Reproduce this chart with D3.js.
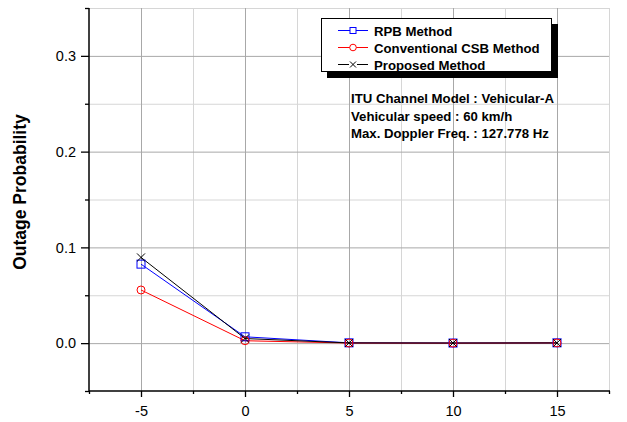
<!DOCTYPE html>
<html>
<head>
<meta charset="utf-8">
<script src="https://cdn.jsdelivr.net/npm/d3@7"></script>
<style>
  html, body { margin: 0; padding: 0; background: #fff; }
  svg { display: block; font-family: Arial, "Liberation Sans", sans-serif; }
</style>
</head>
<body>
<svg id="chart" width="627" height="422"></svg>
<script>
// SNR points on the x axis
const snr = [-5, 0, 5, 10, 15];
// Outage probability for each method
const rpb = [0.0825, 0.0066, 0.0003, 0.0001, 0.0003];
const csb = [0.0555, 0.0025, 0.0001, 0.0000, 0.0002];
const proposed = [0.0895, 0.0048, 0.0002, 0.0001, 0.0002];

const xMajor = [-5, 0, 5, 10, 15];
const xMinor = [-7.5, -2.5, 2.5, 7.5, 12.5, 17.5];
const yMajor = [0.0, 0.1, 0.2, 0.3];
const yMinor = [-0.05, 0.05, 0.15, 0.25, 0.35];

const legendLabels = ["RPB Method", "Conventional CSB Method", "Proposed Method"];
const notes = ["ITU Channel Model : Vehicular-A", "Vehicular speed : 60 km/h", "Max. Doppler Freq. : 127.778 Hz"];

const svg = d3.select("#chart");
const pL = 89, pR = 609, pT = 8, pB = 391;

const x = d3.scaleLinear().domain([-7.5, 17.5]).range([pL, pR]);
const y = d3.scaleLinear().domain([-0.05, 0.35]).range([pB, pT]);

// grid
const grid = svg.append("g");
grid.selectAll(".vmin").data(xMinor.filter(d => d > -7.5)).enter().append("line")
  .attr("x1", d => x(d) + 0.5).attr("x2", d => x(d) + 0.5)
  .attr("y1", pT).attr("y2", pB)
  .attr("stroke", "#d6d6d6").attr("stroke-width", 1);
grid.selectAll(".hmin").data(yMinor.filter(d => d > -0.05)).enter().append("line")
  .attr("x1", pL).attr("x2", pR)
  .attr("y1", d => y(d) + 0.5).attr("y2", d => y(d) + 0.5)
  .attr("stroke", "#d6d6d6").attr("stroke-width", 1);
grid.selectAll(".vmaj").data(xMajor).enter().append("line")
  .attr("x1", d => x(d) + 0.5).attr("x2", d => x(d) + 0.5)
  .attr("y1", pT).attr("y2", pB)
  .attr("stroke", "#a8a8a8").attr("stroke-width", 1);
grid.selectAll(".hmaj").data(yMajor).enter().append("line")
  .attr("x1", pL).attr("x2", pR)
  .attr("y1", d => y(d) + 0.5).attr("y2", d => y(d) + 0.5)
  .attr("stroke", "#a8a8a8").attr("stroke-width", 1);

// axes
const xAxisMajor = d3.axisBottom(x).tickValues(xMajor).tickSize(6).tickPadding(9).tickFormat(d => String(d));
const xAxisMinor = d3.axisBottom(x).tickValues(xMinor).tickSize(3).tickFormat("");
const yAxisMajor = d3.axisLeft(y).tickValues(yMajor).tickSize(8).tickPadding(5).tickFormat(d3.format(".1f"));
const yAxisMinor = d3.axisLeft(y).tickValues(yMinor).tickSize(4).tickFormat("");

function styleAxis(g) {
  g.select(".domain").remove();
  g.selectAll(".tick line").attr("stroke", "#000").attr("stroke-width", 1.3);
  g.selectAll("text").attr("font-size", 14.5).attr("fill", "#000")
    .attr("font-family", "Arial, 'Liberation Sans', sans-serif");
}
svg.append("g").attr("transform", `translate(0,${pB})`).call(xAxisMinor).call(styleAxis);
svg.append("g").attr("transform", `translate(0,${pB})`).call(xAxisMajor).call(styleAxis);
svg.append("g").attr("transform", `translate(${pL},0)`).call(yAxisMinor).call(styleAxis);
svg.append("g").attr("transform", `translate(${pL},0)`).call(yAxisMajor).call(styleAxis);

svg.append("line").attr("x1", pL).attr("x2", pR + 1).attr("y1", pB).attr("y2", pB)
  .attr("stroke", "#000").attr("stroke-width", 1.5);
svg.append("line").attr("x1", pL).attr("x2", pL).attr("y1", pT).attr("y2", pB)
  .attr("stroke", "#000").attr("stroke-width", 1.5);

svg.append("text")
  .attr("transform", `translate(26,192) rotate(-90)`)
  .attr("text-anchor", "middle")
  .attr("font-size", 17.5).attr("font-weight", "bold")
  .text("Outage Probability");

// series
const series = [
  { name: legendLabels[0], values: rpb, color: "#0000ff", marker: "square" },
  { name: legendLabels[1], values: csb, color: "#ff0000", marker: "circle" },
  { name: legendLabels[2], values: proposed, color: "#000000", marker: "cross" }
];

const line = d3.line().x((d, i) => x(snr[i])).y(d => y(d));

function drawMarker(g, type, cx, cy, color) {
  if (type === "square") {
    g.append("rect").attr("x", cx - 4).attr("y", cy - 4).attr("width", 8).attr("height", 8)
      .attr("fill", "none").attr("stroke", color).attr("stroke-width", 1);
  } else if (type === "circle") {
    g.append("circle").attr("cx", cx).attr("cy", cy).attr("r", 4)
      .attr("fill", "none").attr("stroke", color).attr("stroke-width", 1);
  } else {
    g.append("path").attr("d", `M${cx - 4},${cy - 4}L${cx + 4},${cy + 4}M${cx - 4},${cy + 4}L${cx + 4},${cy - 4}`)
      .attr("stroke", color).attr("stroke-width", 1).attr("fill", "none");
  }
}

series.forEach(s => {
  svg.append("path").datum(s.values).attr("d", line)
    .attr("fill", "none").attr("stroke", s.color).attr("stroke-width", 1);
});
series.forEach(s => {
  const g = svg.append("g");
  s.values.forEach((v, i) => drawMarker(g, s.marker, x(snr[i]), y(v), s.color));
});

// legend
const lg = svg.append("g");
lg.append("rect").attr("x", 327).attr("y", 24).attr("width", 231).attr("height", 54).attr("fill", "#000");
lg.append("rect").attr("x", 321.5).attr("y", 18.5).attr("width", 230).attr("height", 53)
  .attr("fill", "#fff").attr("stroke", "#000").attr("stroke-width", 1);
series.forEach((s, i) => {
  const cy = 30.5 + i * 17;
  lg.append("line").attr("x1", 338).attr("x2", 368).attr("y1", cy).attr("y2", cy)
    .attr("stroke", s.color).attr("stroke-width", 1);
  const mg = lg.append("g");
  if (s.marker === "square") {
    mg.append("rect").attr("x", 350).attr("y", cy - 3).attr("width", 6).attr("height", 6)
      .attr("fill", "#fff").attr("stroke", s.color);
  } else if (s.marker === "circle") {
    mg.append("circle").attr("cx", 353).attr("cy", cy).attr("r", 3.3)
      .attr("fill", "#fff").attr("stroke", s.color);
  } else {
    mg.append("rect").attr("x", 349).attr("y", cy - 4).attr("width", 8).attr("height", 8).attr("fill", "#fff");
    mg.append("path").attr("d", `M${350},${cy - 3}L${356},${cy + 3}M${350},${cy + 3}L${356},${cy - 3}`)
      .attr("stroke", s.color).attr("fill", "none");
  }
  lg.append("text").attr("x", 374).attr("y", cy + 5)
    .attr("font-size", 13.2).attr("font-weight", "bold").text(s.name);
});

// simulation notes
svg.append("g").selectAll("text").data(notes).enter().append("text")
  .attr("x", 351).attr("y", (d, i) => 103 + i * 17.5)
  .attr("font-size", 13.2).attr("font-weight", "bold")
  .text(d => d);
</script>
</body>
</html>
